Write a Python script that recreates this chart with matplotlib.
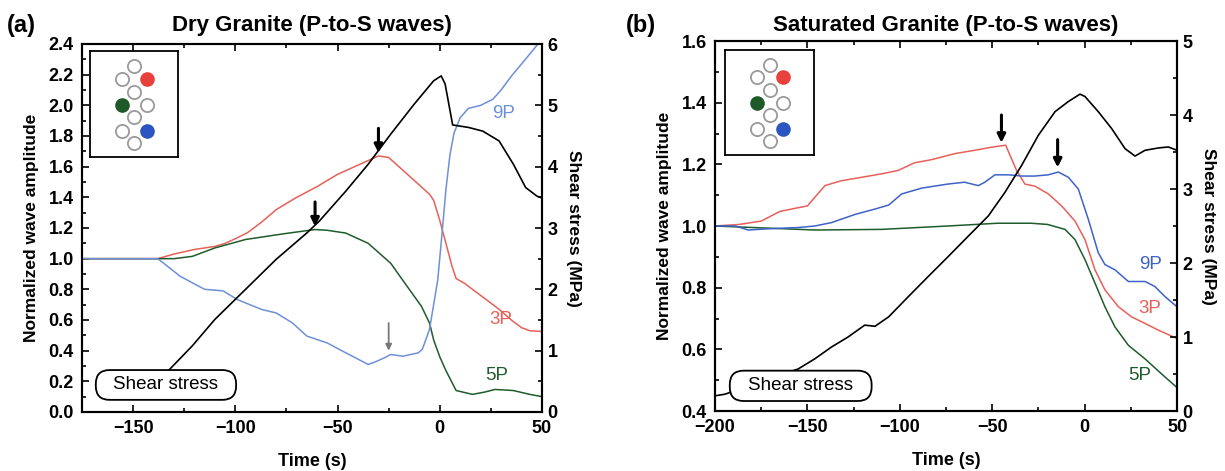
import numpy as np
import matplotlib
matplotlib.use("Agg")
import matplotlib.pyplot as plt
from matplotlib.patches import FancyBboxPatch
from matplotlib.ticker import MultipleLocator

plt.rcParams['font.family'] = ['Liberation Sans', 'DejaVu Sans']

# ---- panel (a): dry granite ----
t_a_3p = [-175, -138, -130, -120, -110, -105, -100, -94, -87, -80, -70, -60, -50, -40,
          -30, -25, -20, -15, -10, -5, -3, 0, 3, 6, 8, 12, 20, 29, 35, 40, 44, 50]
amp_a_3p = [1.0, 1.0, 1.03, 1.06, 1.08, 1.10, 1.13, 1.17, 1.24, 1.32, 1.40, 1.47, 1.55, 1.61,
            1.67, 1.66, 1.60, 1.54, 1.48, 1.42, 1.38, 1.25, 1.10, 0.95, 0.87, 0.84, 0.76, 0.67,
            0.60, 0.55, 0.53, 0.525]

t_a_5p = [-175, -138, -130, -121, -110, -95, -76, -61, -55, -46, -35, -24, -16, -9, -5, -3,
          0, 3, 8, 16, 22, 27, 36, 44, 50]
amp_a_5p = [1.0, 1.0, 1.0, 1.015, 1.07, 1.125, 1.163, 1.19, 1.185, 1.167, 1.10, 0.97, 0.82,
            0.69, 0.58, 0.47, 0.36, 0.27, 0.14, 0.115, 0.13, 0.147, 0.14, 0.115, 0.10]

t_a_9p = [-175, -138, -136, -127, -115, -106, -99, -87, -80, -72, -65, -55, -46, -35, -31,
          -27, -24, -18, -10.5, -8.5, -5, -1, 1, 3, 5, 7, 10, 14, 20, 26, 30, 35, 40, 45, 48, 50]
amp_a_9p = [1.0, 1.0, 0.98, 0.885, 0.80, 0.79, 0.733, 0.668, 0.646, 0.58, 0.495, 0.45, 0.386,
            0.31, 0.33, 0.354, 0.375, 0.364, 0.386, 0.41, 0.54, 0.86, 1.15, 1.45, 1.68, 1.82,
            1.92, 1.98, 2.0, 2.04, 2.1, 2.19, 2.27, 2.35, 2.4, 2.44]

t_a_stress = [-146, -132, -121, -110, -95, -80, -65, -59, -46, -35, -24, -12.5, -3, 0.7, 2.6,
              6.3, 14, 21, 29, 36, 42, 47.5, 50]
mpa_a_stress = [0.25, 0.70, 1.08, 1.51, 2.0, 2.49, 2.92, 3.11, 3.6, 4.04, 4.53, 5.02, 5.4,
                5.48, 5.35, 4.68, 4.64, 4.58, 4.42, 4.04, 3.66, 3.52, 3.49]

# ---- panel (b): saturated granite ----
t_b_3p = [-200, -187, -175, -165, -157, -150, -146, -140.5, -131.5, -120.6, -110, -101, -92,
          -83, -70, -59, -50, -42.7, -36.8, -32.3, -26.8, -19.6, -12.4, -5.2, 0.2, 5.6, 11,
          18.3, 25.5, 32.7, 40, 50]
amp_b_3p = [1.0, 1.005, 1.016, 1.047, 1.057, 1.065, 1.093, 1.131, 1.147, 1.158, 1.169, 1.18,
            1.205, 1.215, 1.235, 1.246, 1.256, 1.262, 1.18, 1.136, 1.129, 1.104, 1.065, 1.016,
            0.956, 0.858, 0.793, 0.738, 0.705, 0.684, 0.662, 0.635]

t_b_9p = [-200, -189, -182, -171, -155, -146, -137, -124, -113.4, -106, -99, -88, -74, -65,
          -57.5, -54, -48.5, -41, -34, -27, -19.6, -14.2, -8.8, -3.4, 2, 7.4, 11, 16.4, 23.7,
          32.7, 38, 43.5, 50]
amp_b_9p = [1.0, 1.0, 0.987, 0.991, 0.995, 1.0, 1.011, 1.038, 1.055, 1.068, 1.104, 1.123,
            1.136, 1.142, 1.131, 1.142, 1.166, 1.166, 1.162, 1.162, 1.166, 1.175, 1.158, 1.12,
            1.022, 0.913, 0.875, 0.858, 0.82, 0.82, 0.804, 0.771, 0.738]

t_b_5p = [-200, -146, -110, -74, -47, -29, -20, -10.6, -5.2, 0.2, 5.6, 11, 16.4, 23.7, 32.7,
          41.7, 50]
amp_b_5p = [1.0, 0.987, 0.989, 1.0, 1.009, 1.009, 1.005, 0.989, 0.956, 0.891, 0.815, 0.738,
            0.673, 0.613, 0.569, 0.52, 0.476]

t_b_stress = [-200, -194.6, -175, -155, -146, -137, -128, -119, -113.4, -106, -95.4, -84.6,
              -73.7, -62.9, -52.1, -43.1, -34.1, -25, -16, -8.8, -2.5, 0.2, 7.4, 14.6, 21.9,
              27.3, 32.7, 40, 45.3, 50]
mpa_b_stress = [0.205, 0.227, 0.40, 0.568, 0.705, 0.864, 1.0, 1.16, 1.145, 1.273, 1.545,
                1.818, 2.09, 2.364, 2.636, 2.955, 3.318, 3.727, 4.045, 4.182, 4.282, 4.25,
                4.045, 3.818, 3.545, 3.445, 3.523, 3.555, 3.568, 3.523]

# sensor layout sketch (inset), fill colour per sensor
sensor_x = [0.5, 0.36, 0.65, 0.5, 0.36, 0.65, 0.5, 0.36, 0.65, 0.5]
sensor_y = [0.858, 0.737, 0.737, 0.613, 0.49, 0.49, 0.377, 0.248, 0.248, 0.133]
sensor_fill = ['none', 'none', '#e8403a', 'none', '#1e5a28', 'none', 'none', 'none',
               '#2b55c0', 'none']

RED = '#e8605a'
GREEN = '#1f5c2c'
BLUE_A = '#6e90d8'
BLUE_B = '#3e62c8'

fig = plt.figure(figsize=(12.25, 4.71), dpi=100)
W, H = 1225., 471.


def setup(ax, ax2, xlim, ylim, ylim2, xmajor):
    ax.set_xlim(*xlim)
    ax.set_ylim(*ylim)
    ax2.set_ylim(*ylim2)
    ax.xaxis.set_major_locator(MultipleLocator(xmajor))
    ax.xaxis.set_minor_locator(MultipleLocator(xmajor / 2))
    ax.yaxis.set_major_locator(MultipleLocator(0.2))
    ax.yaxis.set_minor_locator(MultipleLocator(0.1))
    ax.yaxis.set_major_formatter('{x:.1f}')
    ax2.yaxis.set_major_locator(MultipleLocator(1))
    ax2.yaxis.set_minor_locator(MultipleLocator(0.5))
    ax.tick_params(which='both', direction='in', top=True, right=False,
                   labelsize=13, width=1.2)
    ax.tick_params(which='major', length=5)
    ax.tick_params(which='minor', length=3)
    ax.tick_params(axis='x', pad=6)
    ax.tick_params(axis='y', pad=6)
    ax2.tick_params(which='both', direction='in', labelsize=13, width=1.2, pad=4)
    ax2.tick_params(which='major', length=5)
    ax2.tick_params(which='minor', length=3)
    for a in (ax, ax2):
        for lab in a.get_xticklabels() + a.get_yticklabels():
            lab.set_fontweight('bold')
        for s in a.spines.values():
            s.set_linewidth(1.5)
    ax.set_xlabel('Time (s)', fontsize=13, fontweight='bold', labelpad=11)
    ax.set_ylabel('Normalized wave amplitude', fontsize=12.5, fontweight='bold', labelpad=7)
    ax2.set_ylabel('Shear stress (MPa)', fontsize=12.5, fontweight='bold',
                   rotation=270, labelpad=17)


def inset(ax2, box):
    ins = ax2.inset_axes(box)
    ins.set_xlim(0, 1)
    ins.set_ylim(0, 1)
    ins.set_xticks([])
    ins.set_yticks([])
    for s in ins.spines.values():
        s.set_linewidth(1.3)
    for x, y, c in zip(sensor_x, sensor_y, sensor_fill):
        if c == 'none':
            ins.plot(x, y, 'o', ms=9.5, mfc='white', mec='#9a9a9a', mew=1.3)
        else:
            ins.plot(x, y, 'o', ms=9.5, mfc=c, mec=c, mew=1.0)


def stress_box(ax2, x0, y0, x1, y1, aspect):
    p = FancyBboxPatch((x0, y0), x1 - x0, y1 - y0,
                       boxstyle='round,pad=0,rounding_size=0.03',
                       mutation_aspect=aspect, transform=ax2.transAxes,
                       fc='white', ec='black', lw=1.3, zorder=5)
    ax2.add_patch(p)
    ax2.text((x0 + x1) / 2, (y0 + y1) / 2, 'Shear stress', transform=ax2.transAxes,
             ha='center', va='center', fontsize=13.5, zorder=6)


# ---------------- panel (a) ----------------
axA = fig.add_axes([82 / W, 1 - 412 / H, 460 / W, 368 / H])
axA2 = axA.twinx()
axA.plot(t_a_3p, amp_a_3p, color=RED, lw=1.1)
axA.plot(t_a_5p, amp_a_5p, color=GREEN, lw=1.1)
axA.plot(t_a_9p, amp_a_9p, color=BLUE_A, lw=1.1)
axA2.plot(t_a_stress, mpa_a_stress, color='black', lw=1.2)
setup(axA, axA2, (-175, 50), (0, 2.4), (0, 6), 50)

arrow = dict(arrowstyle='-|>', color='black', lw=2.2, mutation_scale=12, shrinkA=0, shrinkB=0)
axA.annotate('', xy=(-30, 1.69), xytext=(-30, 1.85), arrowprops=arrow)
axA.annotate('', xy=(-61, 1.21), xytext=(-61, 1.37), arrowprops=arrow)
axA.annotate('', xy=(-25, 0.40), xytext=(-25, 0.58),
             arrowprops=dict(arrowstyle='-|>', color='#777777', lw=1.3,
                             mutation_scale=9, shrinkA=0, shrinkB=0))
axA.text(31, 1.95, '9P', color=BLUE_A, fontsize=13.5, ha='center', va='center')
axA.text(30, 0.60, '3P', color=RED, fontsize=13.5, ha='center', va='center')
axA.text(28, 0.24, '5P', color=GREEN, fontsize=13.5, ha='center', va='center')
inset(axA2, [0.017, 0.693, 0.192, 0.288])
stress_box(axA2, 0.03, 0.033, 0.335, 0.114, 460 / 368)

fig.text(312 / W, 1 - 31 / H, 'Dry Granite (P-to-S waves)', ha='center', va='baseline',
         fontsize=16, fontweight='bold')
fig.text(7 / W, 1 - 32 / H, '(a)', ha='left', va='baseline', fontsize=17, fontweight='bold')

# ---------------- panel (b) ----------------
axB = fig.add_axes([715 / W, 1 - 411 / H, 462 / W, 370 / H])
axB2 = axB.twinx()
axB.plot(t_b_3p, amp_b_3p, color=RED, lw=1.1)
axB.plot(t_b_5p, amp_b_5p, color=GREEN, lw=1.1)
axB.plot(t_b_9p, amp_b_9p, color=BLUE_B, lw=1.1)
axB2.plot(t_b_stress, mpa_b_stress, color='black', lw=1.2)
setup(axB, axB2, (-200, 50), (0.4, 1.6), (0, 5), 50)

axB.annotate('', xy=(-45, 1.27), xytext=(-45, 1.36), arrowprops=arrow)
axB.annotate('', xy=(-14.6, 1.19), xytext=(-14.6, 1.28), arrowprops=arrow)
axB.text(35.5, 0.875, '9P', color=BLUE_B, fontsize=13.5, ha='center', va='center')
axB.text(35.5, 0.733, '3P', color=RED, fontsize=13.5, ha='center', va='center')
axB.text(30, 0.514, '5P', color=GREEN, fontsize=13.5, ha='center', va='center')
inset(axB2, [0.022, 0.691, 0.193, 0.286])
stress_box(axB2, 0.032, 0.027, 0.339, 0.109, 462 / 370)

fig.text(946 / W, 1 - 31 / H, 'Saturated Granite (P-to-S waves)', ha='center',
         va='baseline', fontsize=16, fontweight='bold')
fig.text(626 / W, 1 - 32 / H, '(b)', ha='left', va='baseline', fontsize=17, fontweight='bold')

fig.savefig('out.png', dpi=100)
